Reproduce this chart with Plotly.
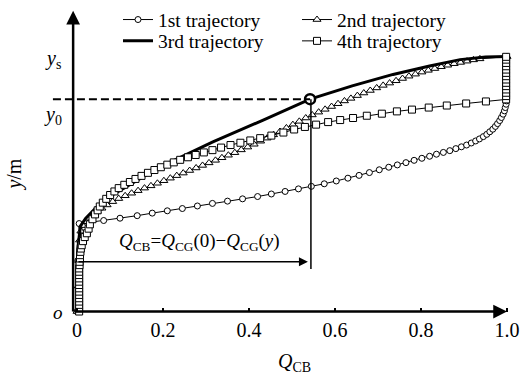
import plotly.graph_objects as go

# ---------------- data ----------------
TICK_VALS = [0.0, 0.2, 0.4, 0.6, 0.8, 1.0]
TICK_TEXT = ["0", "0.2", "0.4", "0.6", "0.8", "1.0"]

# 1st trajectory (circles)
T1_X = [0.0, 0.002, 0.005, 0.03, 0.062, 0.10, 0.14, 0.175, 0.21, 0.245, 0.28, 0.315, 0.35,
        0.385, 0.42, 0.452, 0.484, 0.515, 0.545, 0.575, 0.603, 0.630, 0.656, 0.68, 0.703,
        0.725, 0.745, 0.765, 0.784, 0.802, 0.82, 0.836, 0.852, 0.867, 0.881, 0.894, 0.906,
        0.917, 0.927, 0.936, 0.945, 0.953, 0.96, 0.967, 0.973, 0.978, 0.983, 0.987, 0.991,
        0.994, 0.996, 0.998, 0.999]
T1_Y = [0.0, 0.2, 0.345, 0.350, 0.357, 0.366, 0.376, 0.386, 0.395, 0.404, 0.414, 0.424, 0.433,
        0.442, 0.451, 0.461, 0.471, 0.481, 0.491, 0.501, 0.512, 0.523, 0.534, 0.545, 0.556,
        0.566, 0.575, 0.584, 0.593, 0.601, 0.609, 0.617, 0.624, 0.631, 0.639, 0.646, 0.653,
        0.661, 0.669, 0.677, 0.686, 0.695, 0.705, 0.715, 0.726, 0.737, 0.749, 0.761, 0.774,
        0.787, 0.80, 0.813, 0.826]

# 2nd trajectory (triangles)
T2_X = [0.0, 0.003, 0.004, 0.006, 0.009, 0.014, 0.02, 0.028, 0.037, 0.047, 0.058, 0.07, 0.083,
        0.097, 0.112, 0.127, 0.142, 0.157, 0.172, 0.187, 0.202, 0.217, 0.232, 0.247, 0.262,
        0.277, 0.292, 0.307, 0.322, 0.337, 0.352, 0.367, 0.382, 0.397, 0.412, 0.427, 0.442,
        0.457, 0.472, 0.487, 0.502, 0.517, 0.532, 0.547, 0.562, 0.577, 0.592, 0.607, 0.622,
        0.637, 0.652, 0.667, 0.682, 0.697, 0.712, 0.727, 0.742, 0.757, 0.772, 0.787, 0.802,
        0.817, 0.832, 0.847, 0.862, 0.877, 0.892, 0.907, 0.922, 0.937, 1.0]
T2_Y = [0.0, 0.1, 0.2, 0.28, 0.315, 0.337, 0.352, 0.366, 0.38, 0.393, 0.405, 0.418, 0.431,
        0.443, 0.454, 0.464, 0.474, 0.484, 0.493, 0.503, 0.513, 0.523, 0.533, 0.543, 0.553,
        0.563, 0.573, 0.583, 0.593, 0.603, 0.613, 0.623, 0.634, 0.645, 0.656, 0.668, 0.68,
        0.693, 0.706, 0.72, 0.733, 0.746, 0.759, 0.771, 0.782, 0.793, 0.804, 0.815, 0.826,
        0.836, 0.847, 0.857, 0.867, 0.877, 0.887, 0.896, 0.905, 0.914, 0.923, 0.931, 0.939,
        0.946, 0.953, 0.96, 0.966, 0.972, 0.977, 0.982, 0.987, 0.991, 1.0]

# 3rd trajectory (thick solid line)
T3_X = [0.0, 0.002, 0.008, 0.02, 0.04, 0.07, 0.11, 0.16, 0.216, 0.316, 0.433, 0.542, 0.64,
        0.735, 0.82, 0.891, 0.95, 1.0]
T3_Y = [0.0, 0.25, 0.335, 0.365, 0.40, 0.445, 0.485, 0.535, 0.585, 0.665, 0.751, 0.833, 0.885,
        0.93, 0.963, 0.988, 0.998, 1.0]

# 4th trajectory (squares)
T4_X = [0.005, 0.005, 0.005, 0.005, 0.005, 0.005, 0.005, 0.005, 0.005, 0.005, 0.005, 0.005,
        0.005, 0.005, 0.006, 0.006, 0.007, 0.007, 0.008, 0.009,
        0.011, 0.014, 0.018, 0.023, 0.027, 0.030, 0.036, 0.042, 0.048, 0.053, 0.060, 0.068,
        0.077, 0.087, 0.097, 0.11, 0.123, 0.136, 0.15, 0.165, 0.18, 0.195, 0.21, 0.225, 0.24,
        0.258, 0.276, 0.295, 0.315, 0.335, 0.357, 0.38, 0.403, 0.426, 0.452, 0.48, 0.505,
        0.53, 0.556, 0.584, 0.612, 0.642, 0.674, 0.709, 0.744, 0.779, 0.818, 0.86, 0.905,
        0.951, 0.998,
        0.998, 0.998, 0.998, 0.998, 0.998, 0.998, 0.998, 0.998, 0.998, 0.998, 0.998, 0.998,
        0.998]
T4_Y = [0.0, 0.013, 0.026, 0.039, 0.052, 0.065, 0.078, 0.091, 0.104, 0.117, 0.13, 0.143,
        0.156, 0.169, 0.182, 0.195, 0.208, 0.221, 0.234, 0.247,
        0.26, 0.276, 0.292, 0.307, 0.325, 0.342, 0.362, 0.381, 0.397, 0.412, 0.427, 0.442,
        0.457, 0.471, 0.484, 0.497, 0.508, 0.52, 0.532, 0.544, 0.555, 0.566, 0.576, 0.585,
        0.595, 0.605, 0.614, 0.624, 0.633, 0.643, 0.653, 0.662, 0.671, 0.68, 0.69, 0.702,
        0.714, 0.724, 0.733, 0.743, 0.751, 0.759, 0.768, 0.776, 0.785, 0.792, 0.80, 0.808,
        0.816, 0.824, 0.832,
        0.845, 0.858, 0.871, 0.884, 0.897, 0.91, 0.923, 0.936, 0.949, 0.962, 0.975, 0.988,
        0.999]

NAMES = ["1st trajectory", "2nd trajectory", "3rd trajectory", "4th trajectory"]

# marked point (Q_CB at y0) and annotation levels
Q_AT_Y0 = 0.542
Y0 = 0.833
ARROW_Y = 0.195

FONT = '"Liberation Serif", "Times New Roman", Times, serif'

fig = go.Figure()
fig.add_trace(go.Scatter(x=T1_X, y=T1_Y, mode="lines+markers", name=NAMES[0],
                         legend="legend",
                         line=dict(color="black", width=1),
                         marker=dict(symbol="circle", size=6, color="white",
                                     line=dict(color="black", width=1)),
                         cliponaxis=False))
fig.add_trace(go.Scatter(x=T2_X, y=T2_Y, mode="lines+markers", name=NAMES[1],
                         legend="legend",
                         line=dict(color="black", width=1),
                         marker=dict(symbol="triangle-up", size=7, color="white",
                                     line=dict(color="black", width=1)),
                         cliponaxis=False))
fig.add_trace(go.Scatter(x=T3_X, y=T3_Y, mode="lines", name=NAMES[2],
                         legend="legend2",
                         line=dict(color="black", width=3),
                         cliponaxis=False))
fig.add_trace(go.Scatter(x=T4_X, y=T4_Y, mode="lines+markers", name=NAMES[3],
                         legend="legend2",
                         line=dict(color="black", width=1),
                         marker=dict(symbol="square", size=7, color="white",
                                     line=dict(color="black", width=1)),
                         cliponaxis=False))
# highlighted point on 3rd trajectory
fig.add_trace(go.Scatter(x=[Q_AT_Y0], y=[Y0], mode="markers", showlegend=False,
                         marker=dict(symbol="circle", size=10, color="white",
                                     line=dict(color="black", width=2.5)),
                         cliponaxis=False))

# axis geometry: whole figure is the plotting area
W, H = 520, 376
PX0, PY0 = 77, 311          # pixel of (0,0)
SX, SY = 430, 257           # pixels per unit
xr = [(0 - PX0) / SX, (W - PX0) / SX]
yr = [(PY0 - H) / SY, PY0 / SY]

shapes = [
    dict(type="line", xref="x", yref="y", x0=-0.056, x1=Q_AT_Y0, y0=Y0, y1=Y0,
         line=dict(color="black", width=2, dash="8px,4px")),
    dict(type="line", xref="x", yref="y", x0=Q_AT_Y0 + 0.002, x1=Q_AT_Y0 + 0.002,
         y0=0.167, y1=Y0, line=dict(color="black", width=1.5)),
]

TXT = dict(family=FONT, size=20, color="black")
ann = []
# axes with arrows
ann.append(dict(x=1.0, y=0, ax=-0.009, ay=0, xref="x", yref="y", axref="x", ayref="y",
                text="", showarrow=True, arrowhead=2, arrowsize=1.1, arrowwidth=2.5,
                arrowcolor="black"))
ann.append(dict(x=-0.009, y=1.18, ax=-0.009, ay=-0.006, xref="x", yref="y", axref="x",
                ayref="y", text="", showarrow=True, arrowhead=2, arrowsize=1.1,
                arrowwidth=2.5, arrowcolor="black"))
# Q_CB difference arrow
ann.append(dict(x=0.537, y=ARROW_Y, ax=0.0, ay=ARROW_Y, xref="x", yref="y", axref="x",
                ayref="y", text="", showarrow=True, arrowhead=2, arrowsize=1.2,
                arrowwidth=1.5, arrowcolor="black"))
ann.append(dict(x=0.286, y=0.272, xref="x", yref="y", showarrow=False,
                text="<i>Q</i><sub>CB</sub>=<i>Q</i><sub>CG</sub>(0)\u2212<i>Q</i><sub>CG</sub>(<i>y</i>)",
                font=dict(family=FONT, size=19, color="black")))
# labels
ann.append(dict(x=(294 - PX0) / SX, y=(PY0 - 362) / SY, xref="x", yref="y", showarrow=False,
                text="<i>Q</i><sub>CB</sub>", font=TXT))
ann.append(dict(x=(15 - PX0) / SX, y=(PY0 - 173) / SY, xref="x", yref="y", showarrow=False,
                textangle=-90, text="<i>y</i>/m", font=TXT))
ann.append(dict(x=(58 - PX0) / SX, y=(PY0 - 312) / SY, xref="x", yref="y", showarrow=False,
                text="<i>o</i>", font=dict(family=FONT, size=19, color="black")))
ann.append(dict(x=(53 - PX0) / SX, y=(PY0 - 57) / SY, xref="x", yref="y", showarrow=False,
                text="<i>y</i><sub>s</sub>", font=TXT))
ann.append(dict(x=(53 - PX0) / SX, y=(PY0 - 113) / SY, xref="x", yref="y", showarrow=False,
                text="<i>y</i><sub>0</sub>", font=TXT))

LEG = dict(orientation="h", xanchor="left", yanchor="middle",
           entrywidth=134, entrywidthmode="pixels", bgcolor="rgba(0,0,0,0)",
           font=dict(family=FONT, size=19.5, color="black"), tracegroupgap=0)

fig.update_layout(
    width=W, height=H,
    margin=dict(l=0, r=0, t=0, b=0),
    paper_bgcolor="white", plot_bgcolor="white",
    font=dict(family=FONT, size=16, color="black"),
    xaxis=dict(range=xr, domain=[0, 1], anchor="free", position=(H - PY0) / H,
               showgrid=False, zeroline=False, showline=False,
               tickmode="array", tickvals=TICK_VALS, ticktext=TICK_TEXT,
               ticks="inside", ticklen=4, tickwidth=1.5, tickcolor="black",
               tickfont=dict(family=FONT, size=20, color="black"),
               ticklabelstandoff=4, fixedrange=True),
    yaxis=dict(range=yr, visible=False, fixedrange=True),
    shapes=shapes,
    annotations=ann,
    legend=dict(LEG, x=118 / W, y=1 - 17 / H),
    legend2=dict(LEG, x=118 / W, y=1 - 38.5 / H),
    showlegend=True,
)

fig.write_html("out.html")
